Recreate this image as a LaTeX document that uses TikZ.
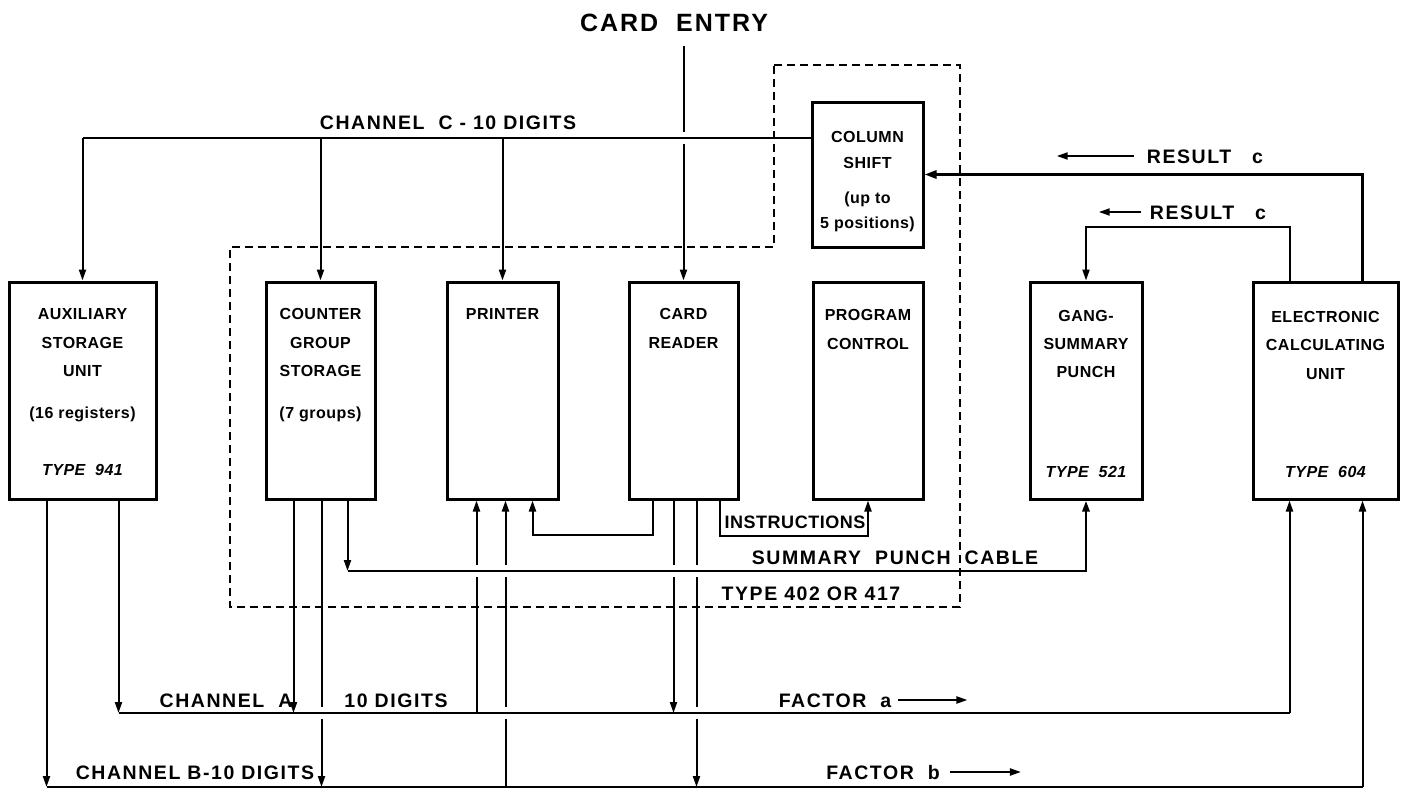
\documentclass[tikz,border=0pt]{standalone}
\usepackage{fontspec}
\setmainfont{Liberation Sans}
\newfontfamily\chfont{Liberation Sans}[LetterSpace=8]
\newfontfamily\bxfont{Liberation Sans}[LetterSpace=3]
\usetikzlibrary{arrows.meta}
\usetikzlibrary{calc}

\begin{document}
\begin{tikzpicture}[x=1pt, y=-1pt, line join=miter,
  unit/.style={draw, line width=3pt, inner sep=0pt, minimum width=#1, minimum height=217pt},
  bxtxt/.style={inner sep=0pt, text height=11.5pt, text depth=0pt, font=\bxfont\bfseries\fontsize{16}{18}\selectfont},
  lab/.style={inner sep=0pt, text height=14pt, text depth=0pt, font=\chfont\bfseries\fontsize{19.5}{22}\selectfont},
  bus/.style={draw, line width=2.8pt},
  wire/.style={draw, line width=2pt},
  arr/.style={wire, -{Triangle[length=11pt, width=7pt]}},
  busarr/.style={bus, -{Triangle[length=12pt, width=8pt]}},
  frame/.style={draw, line width=2pt, dash pattern=on 8pt off 5pt}]
  \fill[white] (0,0) rectangle (1408,792);
  \useasboundingbox (0,0) rectangle (1408,792);

  % units
  \node[unit=147pt] (aux) at (82.5,390.5) {};
  \node[unit=109pt] (cgs) at (320.5,390.5) {};
  \node[unit=111pt] (prt) at (502.5,390.5) {};
  \node[unit=109pt] (rdr) at (683.5,390.5) {};
  \node[unit=110pt] (pgm) at (868,390.5) {};
  \node[unit=112pt] (gsp) at (1086,390.5) {};
  \node[unit=145pt] (ecu) at (1325.5,390.5) {};
  \node[unit=111pt, minimum height=145pt] (colsh) at (867.5,174.5) {};

  % texts in the units
  \node[bxtxt] at (82.5,314) {AUXILIARY};
  \node[bxtxt] at (82.5,343) {STORAGE};
  \node[bxtxt] at (82.5,371) {UNIT};
  \node[bxtxt] at (82.5,413) {(16 registers)};
  \node[bxtxt, font=\bxfont\bfseries\itshape\fontsize{16}{18}\selectfont] at (82.5,470) {TYPE\ \ 941};
  \node[bxtxt] at (320.5,314) {COUNTER};
  \node[bxtxt] at (320.5,343) {GROUP};
  \node[bxtxt] at (320.5,371) {STORAGE};
  \node[bxtxt] at (320.5,413) {(7 groups)};
  \node[bxtxt] at (502.5,314) {PRINTER};
  \node[bxtxt] at (683.5,314) {CARD};
  \node[bxtxt] at (683.5,343) {READER};
  \node[bxtxt] at (868,315) {PROGRAM};
  \node[bxtxt] at (868,344) {CONTROL};
  \node[bxtxt] at (1086,316) {GANG-};
  \node[bxtxt] at (1086,344) {SUMMARY};
  \node[bxtxt] at (1086,372) {PUNCH};
  \node[bxtxt, font=\bxfont\bfseries\itshape\fontsize{16}{18}\selectfont] at (1086,472) {TYPE\ \ 521};
  \node[bxtxt] at (1325.5,317) {ELECTRONIC};
  \node[bxtxt] at (1325.5,345) {CALCULATING};
  \node[bxtxt] at (1325.5,374) {UNIT};
  \node[bxtxt, font=\bxfont\bfseries\itshape\fontsize{16}{18}\selectfont] at (1325.5,472) {TYPE\ \ 604};
  \node[bxtxt] at (867.5,137) {COLUMN};
  \node[bxtxt] at (867.5,163) {SHIFT};
  \node[bxtxt] at (867.5,198) {(up to};
  \node[bxtxt] at (867.5,223) {5 positions)};

  % the 402/417 frame
  \draw[frame] (774,65) -- (960,65) -- (960,607) -- (230,607) -- (230,247) -- (774,247) -- cycle;

  % levels and pins
  \coordinate (lvC) at (0,138);
  \coordinate (lvR) at (0,227);
  \coordinate (lvPr) at (0,535);
  \coordinate (lvIn) at (0,536);
  \coordinate (lvCab) at (0,571);
  \coordinate (lvA) at (0,713);
  \coordinate (lvB) at (0,787);
  \coordinate (ax1) at ([xshift=-36pt]aux.south);
  \coordinate (ax2) at ([xshift=36pt]aux.south);
  \coordinate (cg1) at ([xshift=-27pt]cgs.south);
  \coordinate (cg2) at ([xshift=1pt]cgs.south);
  \coordinate (cg3) at ([xshift=27pt]cgs.south);
  \coordinate (pr1) at ([xshift=-26pt]prt.south);
  \coordinate (pr2) at ([xshift=3pt]prt.south);
  \coordinate (pr3) at ([xshift=30pt]prt.south);
  \coordinate (rd1) at ([xshift=-31pt]rdr.south);
  \coordinate (rd2) at ([xshift=-10pt]rdr.south);
  \coordinate (rd3) at ([xshift=13pt]rdr.south);
  \coordinate (rd4) at ([xshift=36pt]rdr.south);
  \coordinate (ec1) at ([xshift=-36pt]ecu.south);
  \coordinate (ec2) at ([xshift=37pt]ecu.south);
  \coordinate (et1) at ([xshift=-36pt]ecu.north);
  \coordinate (et2) at ([xshift=37pt]ecu.north);

  % card entry and channel C
  \node[inner sep=0pt, font=\chfont\bfseries\fontsize{25}{28}\selectfont] (entry) at (674,23) {CARD\ \ ENTRY};
  \draw[wire] ($(entry.south -| rdr.north)+(0,14)$) -- ($(lvC -| rdr.north)+(0,-6)$);
  \draw[arr] ($(lvC -| rdr.north)+(0,6)$) -- (rdr.north);
  \draw[bus] (colsh.west |- lvC) -- (lvC -| aux.north);
  \draw[arr] (lvC -| aux.north) -- (aux.north);
  \draw[arr] (lvC -| cgs.north) -- (cgs.north);
  \draw[arr] (lvC -| prt.north) -- (prt.north);
  \node[lab] (chc) at (448,122) {CHANNEL\ \ C\ -\ 10 DIGITS};

  % results
  \draw[busarr] (et2) |- (colsh.east);
  \draw[arr] (et1) |- (lvR -| gsp.north) -- (gsp.north);
  \node[lab] (res1) at (1205,156) {RESULT\ \ \ c};
  \draw[arr] ([xshift=-13pt]res1.west) -- ++(-77,0);
  \node[lab] (res2) at (1208,212) {RESULT\ \ \ c};
  \draw[arr] ([xshift=-9pt]res2.west) -- ++(-42,0);

  % channels A and B
  \draw[bus] (ax2 |- lvA) -- (ec1 |- lvA);
  \draw[bus] (ax1 |- lvB) -- (ec2 |- lvB);
  \draw[arr] (ax1) -- (ax1 |- lvB);
  \draw[arr] (ax2) -- (ax2 |- lvA);
  \draw[arr] (cg1) -- (cg1 |- lvA);
  \draw[wire] (cg2) -- ($(cg2 |- lvA)+(0,-6)$);
  \draw[arr] ($(cg2 |- lvA)+(0,6)$) -- (cg2 |- lvB);
  \draw[wire] (pr1 |- lvA) -- ($(pr1 |- lvCab)+(0,6)$);
  \draw[arr] ($(pr1 |- lvCab)+(0,-6)$) -- (pr1);
  \draw[wire] (pr2 |- lvB) -- ($(pr2 |- lvA)+(0,6)$);
  \draw[wire] ($(pr2 |- lvA)+(0,-6)$) -- ($(pr2 |- lvCab)+(0,6)$);
  \draw[arr] ($(pr2 |- lvCab)+(0,-6)$) -- (pr2);
  \draw[arr] (rd1) |- (lvPr -| pr3) -- (pr3);
  \draw[wire] (rd2) -- ($(rd2 |- lvCab)+(0,-6)$);
  \draw[arr] ($(rd2 |- lvCab)+(0,6)$) -- (rd2 |- lvA);
  \draw[wire] (rd3) -- ($(rd3 |- lvCab)+(0,-6)$);
  \draw[wire] ($(rd3 |- lvCab)+(0,6)$) -- ($(rd3 |- lvA)+(0,-6)$);
  \draw[arr] ($(rd3 |- lvA)+(0,6)$) -- (rd3 |- lvB);
  \draw[arr] (ec1 |- lvA) -- (ec1);
  \draw[arr] (ec2 |- lvB) -- (ec2);
  \node[lab] (cha) at (226,700) {CHANNEL\ \ A};
  \node[lab] (dga) at (396,700) {10 DIGITS};
  \node[lab] (chb) at (195,772) {CHANNEL\ B-10 DIGITS};
  \node[lab] (fca) at (835,700) {FACTOR\ \ a};
  \draw[arr] ([xshift=7pt]fca.east) -- ++(69,0);
  \node[lab] (fcb) at (883,772) {FACTOR\ \ b};
  \draw[arr] ([xshift=10pt]fcb.east) -- ++(71,0);

  % instructions and summary punch cable
  \draw[arr] (rd4) |- (lvIn -| pgm.south) -- (pgm.south);
  \node[lab, text height=13pt, font=\bxfont\bfseries\fontsize{18}{20}\selectfont] (ins) at (795,522) {INSTRUCTIONS};
  \draw[arr] (cg3) -- (cg3 |- lvCab);
  \draw[bus, -{Triangle[length=11pt, width=7pt]}] (cg3 |- lvCab) -- (lvCab -| gsp.south) -- (gsp.south);
  \node[lab] (cab) at (895,557) {SUMMARY\ \ PUNCH\ \ CABLE};
  \node[lab] (typ) at (811,593) {TYPE\ 402\ OR\ 417};
\end{tikzpicture}
\end{document}
